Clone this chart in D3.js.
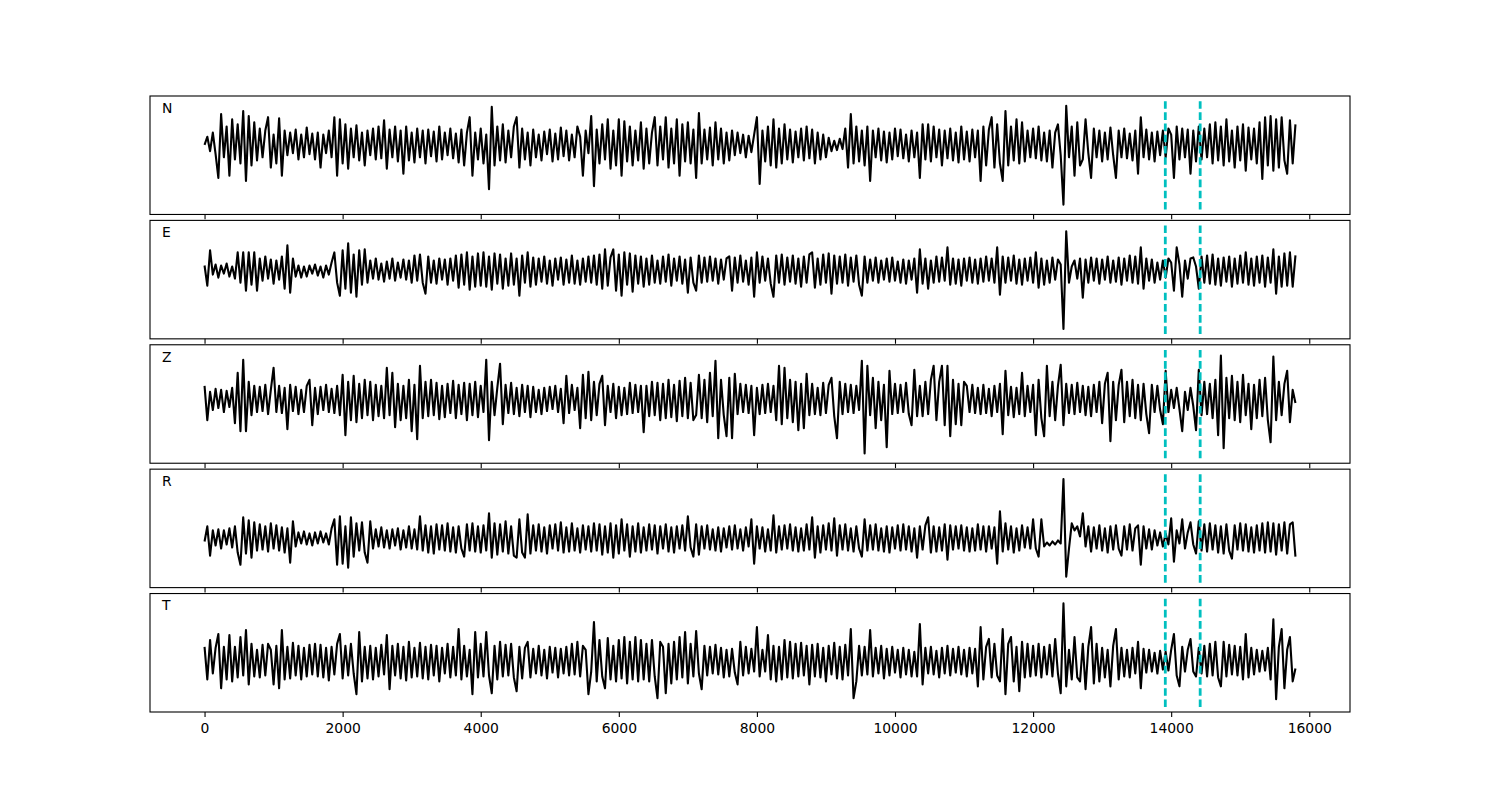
<!DOCTYPE html>
<html>
<head>
<meta charset="utf-8">
<script src="https://cdn.jsdelivr.net/npm/d3@7"></script>
<style>
	body { margin: 0; background: #fff; }
	svg { font-family: "DejaVu Sans", sans-serif; }
</style>
</head>
<body>
<svg id="chart" width="1500" height="800"></svg>
<script>
// components, one panel each
const components = ["N", "E", "Z", "R", "T"]
// mean level of each trace (same units as the samples)
const baselines = [10, 9, 4, -10, -9]
// samples are 40 points apart on the x axis
const sampleStep = 40
// picked arrivals (dashed lines)
const picks = [13915, 14420]
const xTicks = [0, 2000, 4000, 6000, 8000, 10000, 12000, 14000, 16000]

// waveforms (20 samples a row)
const traceN = [
	0, 8, -6, 12, -9, -32, 30, -12, 18, -30, 25, -14, 20, -18, 33, -35, 28, -20, 22, -15,
	16, -12, 14, 27, -22, 10, -18, 26, -30, 14, -10, 12, -8, 15, -14, 10, -12, 17, -9, 11,
	-14, 12, -22, 10, -8, 14, -12, 27, -30, 25, -18, 20, -23, 16, -12, 19, -15, 12, -20, 14,
	-10, 16, -14, 18, -13, 24, -23, 15, -12, 18, -16, 14, -28, 18, -15, 12, -17, 16, -12, 14,
	-18, 15, -11, 13, -16, 18, -14, 12, -10, 16, -13, 11, -17, 15, -20, 12, 27, -30, 12, -14,
	16, -18, 10, -43, 37, -20, 18, -15, 20, -17, 14, -12, 18, 27, -22, 16, -14, 12, -20, 15,
	-12, 10, -15, 13, -9, 15, -16, 11, -14, 17, -11, 14, -15, 10, -12, 18, 8, -30, 14, -8,
	28, -40, 15, -18, 20, -14, 25, -23, 14, -20, 25, -30, 23, -16, 18, -20, 14, -15, 22, -23,
	16, -18, 12, 27, -20, 18, -14, 27, -22, 16, -18, 25, -30, 20, -16, 22, -18, 15, -32, 31,
	-18, 15, -14, 17, -20, 22, -14, 16, -18, 12, -15, 14, -10, 12, -8, 10, -12, 9, -7, 10,
	27, -38, 14, -16, 18, -20, 25, -22, 16, -18, 20, -14, 15, -17, 13, -12, 16, -15, 18, -13,
	15, -18, 12, -14, 10, -12, 7, -6, 4, -5, 6, -4, 16, -22, 30, -18, 18, -16, 14, -20,
	18, -35, 14, -12, 16, -15, 13, -17, 12, -14, 16, -11, 15, -13, 10, -16, 14, -12, 12, -32,
	20, -14, 20, -16, 18, -12, 15, -20, 14, -13, 16, -15, 12, -17, 18, -14, 13, -16, 15, -12,
	14, -35, 18, -20, 15, 27, -22, 20, -18, -35, 33, -20, 18, -15, 25, -18, 22, -16, 14, -12,
	16, -13, 18, -15, 12, -16, 14, -22, 12, 20, -10, -58, 38, -12, 18, -30, 22, -20, -14, 25,
	-8, -32, 16, -12, 14, -16, 12, -14, 17, -10, -32, 14, -12, 16, -13, 11, -15, 14, -28, 27,
	-12, 15, -14, 12, -16, 13, -10, 14, -12, 16, 10, -32, 18, -14, 16, -12, 15, -28, 14, -16,
	18, -14, 16, -12, 20, -18, 22, -15, 18, -20, 25, -16, 14, -22, 18, -15, 20, -25, 17, -14,
	16, -18, 22, -33, 27, -20, 28, -25, 25, -22, 27, -15, -28, 24, -18, 20
]
const traceE = [
	5, -15, 20, -4, 6, -7, 5, -3, 7, -6, 4, -8, 18, -12, 18, -20, 18, -14, 18, -20,
	12, -10, 14, -8, 11, -13, 10, -9, 14, -18, 25, -22, 12, -6, 5, -7, 4, -6, 5, -3,
	6, -5, 4, -7, 5, -4, 8, 18, -12, -25, 20, -18, 27, -22, 16, -26, 20, -14, 21, -12,
	10, -8, 12, -9, 7, -11, 9, -8, 12, -10, 8, -7, 11, -9, 10, -12, 15, -10, 16, -12,
	-23, 14, -12, 10, -13, 12, -9, 11, -14, 12, -10, 15, -17, 16, -14, 18, -19, 14, -16, 17,
	-15, 18, -16, 14, -19, 17, -13, 16, -18, 12, -15, 17, -14, 12, -25, 15, -12, 18, -16, 13,
	-14, 12, -11, 14, -13, 10, -15, 12, -9, 13, -14, 11, -12, 15, -13, 10, -14, 12, -11, 14,
	-12, 15, -14, 16, -18, 21, -15, 13, 21, -20, 16, -25, 18, -14, 17, -21, 15, -13, 14, -16,
	12, -14, 15, -12, 10, -13, 14, -11, 16, -15, 12, -10, 14, -13, 11, -22, 13, -12, -20, 15,
	-12, 13, -11, 14, -10, 12, -13, 11, -9, 12, 14, -20, 13, -12, 15, -11, 10, -14, 13, -26,
	18, -12, 14, -10, 12, -13, -26, 15, -12, 16, -14, 13, -11, 15, -13, 12, -16, 14, -12, 16,
	18, -17, 12, -14, 16, -12, 17, -23, 15, -13, 14, -12, 16, -15, 13, -11, 15, -14, -25, 14,
	-12, 11, -10, 13, -12, 10, -9, 12, -11, 13, -10, 9, -12, 11, -13, 10, -9, 12, -22, 21,
	-13, 12, -18, 10, -12, 14, -11, 13, -10, 23, -14, 12, -13, 11, -15, 12, -10, 13, -12, 11,
	-13, 12, -11, 14, -10, 12, -12, 23, -24, 14, -12, 13, -10, 15, -13, 11, -14, 12, -10, 13,
	-12, 18, -17, 12, -14, 10, -12, 13, -9, 11, 6, -58, 39, -12, 4, 10, -8, 12, -27, 11,
	-12, 13, -10, 12, -13, 11, -9, 14, -12, 10, -11, 13, -14, 12, -10, 15, -12, 14, -13, 23,
	-18, 12, -10, 11, -12, 8, -9, 10, -7, 12, 8, -20, 23, 6, -26, 10, -8, 12, 13, 4,
	-18, 14, -12, 15, -13, 16, -14, 12, -15, 13, -11, 14, -16, 12, -13, 15, -12, 18, -14, 12,
	-15, 14, -12, 15, -16, 13, -12, 21, -23, 14, -16, 17, -15, 18, -16, 15
]
const traceZ = [
	14, -20, 8, -10, 11, -8, 10, -12, 9, -7, 12, -23, 27, -31, 40, -31, 18, -15, 14, -12,
	13, -11, 15, -14, 10, 32, -12, 14, -13, 12, -29, 15, -11, 13, -14, 10, -12, 14, 20, -25,
	12, -14, 13, -10, 15, -12, 11, -13, 14, -15, 25, -35, 18, -20, 24, -22, 16, -18, 20, -15,
	18, -20, 15, -16, 14, -18, 32, -15, 27, -27, 16, -20, 14, -18, 20, -31, 15, -39, 34, -18,
	18, -16, 20, -15, 17, -19, 14, -17, 16, -13, 19, -18, 15, -14, 17, -20, 16, -15, 18, -17,
	14, -12, 40, -40, 18, -15, 12, 36, -24, 15, -13, 17, -14, 12, -16, 15, -12, 14, -17, 13,
	-12, 10, -14, 12, -11, 13, -9, 14, -12, 11, -23, 24, -13, 15, -10, 12, -28, 25, -18, 28,
	-20, 18, -15, 16, 24, -25, 14, -12, 16, -18, 13, -15, 12, -14, 17, -13, 15, -12, 14, -32,
	14, -16, 18, -15, 17, -20, 16, -18, 20, -17, 15, -21, 19, -16, 22, -18, 17, -20, -15, 25,
	-18, 20, -22, 27, -16, 39, -38, 20, -15, -36, 22, -38, 26, -14, 16, -12, 15, -13, 14, -35,
	12, -14, 15, -13, 16, -12, 14, -20, 34, -24, 32, -18, 20, -22, 18, -30, 16, -28, 26, -15,
	16, -14, 12, -15, 17, -13, 15, 22, -16, -38, 18, -14, 16, -12, 15, -13, 14, -10, 39, -53,
	34, -15, 22, -28, 18, -20, 15, -47, 29, -14, 16, -13, 15, -12, 17, -14, -25, 30, -16, 14,
	-16, 18, -14, 20, 34, -20, 18, 34, -25, 34, -36, 20, -24, 16, -25, 18, 14, -12, 15, -13,
	12, -14, 15, -13, 11, -16, 14, -12, 16, -34, 29, -15, 13, -17, 12, -14, 27, -16, 14, -12,
	15, -35, 20, -18, -36, 34, -16, 18, -20, 14, 35, -25, 16, -13, 15, -14, 17, -12, 14, -15,
	13, -16, 15, -12, 18, -23, 16, 27, -41, 18, -20, 15, 30, -22, 18, -16, 20, -18, 15, -20,
	16, -14, -33, 15, -12, 14, -10, -24, 29, -12, 10, -8, 12, -9, -31, 8, -10, 12, -6, -30,
	30, -15, 18, -14, 16, -18, 20, -35, 44, -48, 22, -18, 24, -20, 18, -22, 25, -15, 16, -29,
	15, -18, 20, -16, 22, -20, -42, 43, -20, 18, -15, 16, 29, -22, 10, -3
]
const traceR = [
	-3, 12, -17, 8, -7, 9, -10, 8, -6, 10, -9, 12, -14, -26, 21, -15, 18, -19, 16, -12,
	14, -11, 12, -13, 15, -10, 13, -12, 11, -14, 10, -24, 17, -8, 6, -5, 7, -6, 5, -7,
	6, -5, 7, -4, 5, -6, 10, 19, -26, 22, -25, 12, -29, 21, -18, 15, -12, 16, -14, -24,
	17, -10, 9, -8, 11, -9, 8, -10, 9, -7, 10, -11, 8, -9, 12, -10, 9, -11, 22, -12,
	13, -14, 12, -15, 14, -11, 13, -12, 15, -13, 11, -14, 12, -10, -18, 14, -12, 15, -13, 12,
	-14, 13, -12, 25, -19, 15, -16, 14, -13, 17, -15, 12, -17, -19, 19, -14, -19, 24, -15, 13,
	-12, 14, -13, 11, -15, 13, -10, 14, -12, 16, -14, 11, -13, 15, -12, 10, -14, 13, -11, 12,
	-13, 15, -12, 14, -16, 12, -14, 15, -19, 13, -15, 19, -12, 14, -18, 12, -13, 15, -14, 11,
	-12, 14, -11, 13, -15, 12, -10, 14, -13, 11, -14, 12, -10, 13, -12, 22, -9, -18, 14, -16,
	12, -10, 13, -11, 9, -12, 11, -13, 10, -9, 12, -11, 13, -10, 9, -12, 11, -8, 19, -25,
	12, -10, 11, -13, 9, -12, 23, -14, 12, -11, 13, -10, 14, -12, 11, -13, 10, -12, 14, -11,
	21, -19, 12, -14, 13, -11, 15, -12, 20, -17, 13, -11, 14, -12, 10, -13, 12, -10, -18, 19,
	-12, 13, -11, 14, -12, 10, -13, 12, -14, 11, -10, 13, -12, 14, -11, 12, -13, 10, -19, 12,
	-11, 13, 21, -14, 12, -13, 11, -12, 14, -21, 13, -11, 12, -10, 13, -12, 11, -13, 10, -12,
	14, -11, 12, -13, 12, -10, 11, -25, 27, -13, 15, -11, 12, -14, 10, -12, 13, -9, 11, -10,
	19, -10, -18, 19, -8, -4, -7, -3, -6, -2, -5, 59, -38, -10, 15, 8, 12, 2, 25, -8,
	12, -13, 11, -10, 13, -12, 10, -14, 12, -11, 13, -10, -17, 12, -11, 14, -12, 10, 13, -26,
	12, -10, 9, -11, 8, -7, 6, -8, 5, -6, 20, -23, 8, -5, 19, -10, 6, 16, -6, -15,
	17, -12, 14, -13, 15, -11, 13, -14, 12, -15, 14, -12, -20, 13, -11, 15, -12, 14, -13, 11,
	-14, 13, -12, 15, -14, 16, -13, 15, -16, 14, -12, 16, -15, 14, 16, -18
]
const traceT = [
	15, -18, 22, -12, 14, 28, -27, 15, -18, 27, -20, 15, -16, 25, -14, 32, -23, 18, -15, 12,
	-16, 17, -14, 18, 12, -23, 16, -27, 32, -18, 15, -17, 19, -14, 16, -18, 14, -15, 17, -13,
	18, -15, 17, -16, 14, -19, 15, -13, 18, 28, -17, 16, -14, 18, -12, -33, 30, -20, 15, -17,
	16, -18, 14, -15, 17, -13, 27, -28, 16, -14, 18, -17, 15, -19, 20, -16, 14, -15, 19, -17,
	15, -18, 17, -14, 16, -20, 14, -12, 18, -16, 15, -14, 33, -18, 16, -15, 12, -33, 30, -16,
	18, -15, 30, -14, -32, 16, -18, 20, -15, 17, -14, 18, -16, -30, 15, -17, 14, 20, -16, 13,
	-12, 16, -14, 12, -17, 15, -11, 14, -16, 13, -12, 15, -14, 18, -13, 20, -15, 16, 12, -33,
	-10, 40, -20, 22, -15, -27, 24, -18, 16, -20, 22, -17, 25, -22, 20, -18, 25, -20, 22, -18,
	18, -20, 22, -15, -37, 20, 15, -32, 18, -22, 20, -18, 25, -16, 30, -22, 18, -15, 31, -12,
	-28, 16, -14, 15, -12, 17, -13, 14, -16, 12, -15, 13, -11, -23, 20, -14, 15, -12, 13, -10,
	35, -15, 12, -10, 27, -18, 16, -20, 15, -18, 22, -16, 20, -17, 18, -15, 19, -14, 16, -23,
	17, -15, 18, -16, 14, -20, 16, -13, 19, -17, 15, -18, 17, -14, 33, -37, -20, 16, -14, 15,
	-13, 32, -15, 14, -12, 16, -17, 13, -14, 15, -11, 12, -16, 14, -13, 12, -15, 10, -15, 38,
	-23, 14, -12, 15, -13, 11, -16, 14, -12, 16, -14, 13, -11, 15, -13, 12, -15, 14, -12, 13,
	-25, 35, -18, 15, 23, -16, 18, -14, -20, 33, -33, 18, 25, -20, 15, -30, 20, -16, 18, -15,
	16, -14, 18, -16, 15, -13, 17, -15, 23, -12, -32, 59, -25, 12, -18, 25, -16, -20, 18, -28,
	15, 35, -22, 18, -20, 14, -16, 12, -25, 16, 33, -18, 14, -15, 12, -16, 14, -12, 20, -27,
	13, -11, 12, -10, 9, -12, 11, -8, 10, -9, 12, 28, -14, -25, 15, -10, 12, 23, -10, -15,
	14, -12, 16, -15, 18, -14, 20, -16, -25, 20, -15, 17, -13, 16, -14, 15, -18, 28, -16, 14,
	-13, 12, -10, 11, -9, 14, -18, 43, -38, 15, 33, -27, 12, 25, -20, -7
]
const traces = [traceN, traceE, traceZ, traceR, traceT]

const width = 1500
const height = 800
const margin = { top: 96, bottom: 88, left: 150, right: 150 }
const hspace = 0.05
const fontSize = 13.9

const plotH = height - margin.top - margin.bottom
const panelH = plotH / (components.length + (components.length - 1) * hspace)
const gap = panelH * hspace

const svg = d3.select("#chart")

// x is the sample position, shared by every panel
const tMax = (traceN.length - 1) * sampleStep
const x = d3
	.scaleLinear()
	.domain([-0.05 * tMax, 1.05 * tMax])
	.range([margin.left, width - margin.right])

const line = (y) =>
	d3
		.line()
		.x((d, i) => x(i * sampleStep))
		.y((d) => y(d))

components.forEach((name, k) => {
	const top = margin.top + k * (panelH + gap)
	const values = traces[k].map((v) => v + baselines[k])
	const peak = d3.max(values, (v) => Math.abs(v))

	// symmetric limits round the largest excursion
	const y = d3
		.scaleLinear()
		.domain([-1.2 * peak, 1.2 * peak])
		.range([top + panelH, top])

	const g = svg.append("g").attr("class", "panel-" + name)

	g.append("path")
		.datum(values)
		.attr("d", line(y))
		.attr("fill", "none")
		.attr("stroke", "#000")
		.attr("stroke-width", 2.1)
		.attr("stroke-linejoin", "round")

	// picks drawn bottom to top so the dash starts at the bottom
	g.selectAll("line.pick")
		.data(picks)
		.join("line")
		.attr("class", "pick")
		.attr("x1", (d) => x(d))
		.attr("x2", (d) => x(d))
		.attr("y1", y(-1.1 * peak))
		.attr("y2", y(1.1 * peak))
		.attr("stroke", "#00bfbf")
		.attr("stroke-width", 2.8)
		.attr("stroke-dasharray", "7.6,3.6")

	// axis
	const axis = d3
		.axisBottom(x)
		.tickValues(xTicks)
		.tickSize(4.9)
		.tickPadding(6.2)
		.tickFormat(k === components.length - 1 ? d3.format("d") : () => "")

	const ax = g
		.append("g")
		.attr("transform", `translate(0, ${top + panelH})`)
		.call(axis)
	ax.select(".domain").remove()
	ax.selectAll(".tick line").attr("stroke", "#000").attr("stroke-width", 1.1)
	ax.selectAll(".tick text")
		.attr("fill", "#000")
		.style("font-size", fontSize + "px")
		.style("font-family", "DejaVu Sans")

	// frame
	g.append("rect")
		.attr("x", margin.left)
		.attr("y", top)
		.attr("width", width - margin.left - margin.right)
		.attr("height", panelH)
		.attr("fill", "none")
		.attr("stroke", "#000")
		.attr("stroke-width", 1.1)

	g.append("text")
		.attr("x", margin.left + 0.01 * (width - margin.left - margin.right))
		.attr("y", top + 16.8)
		.attr("fill", "#000")
		.style("font-size", fontSize + "px")
		.text(name)
})
</script>
</body>
</html>
